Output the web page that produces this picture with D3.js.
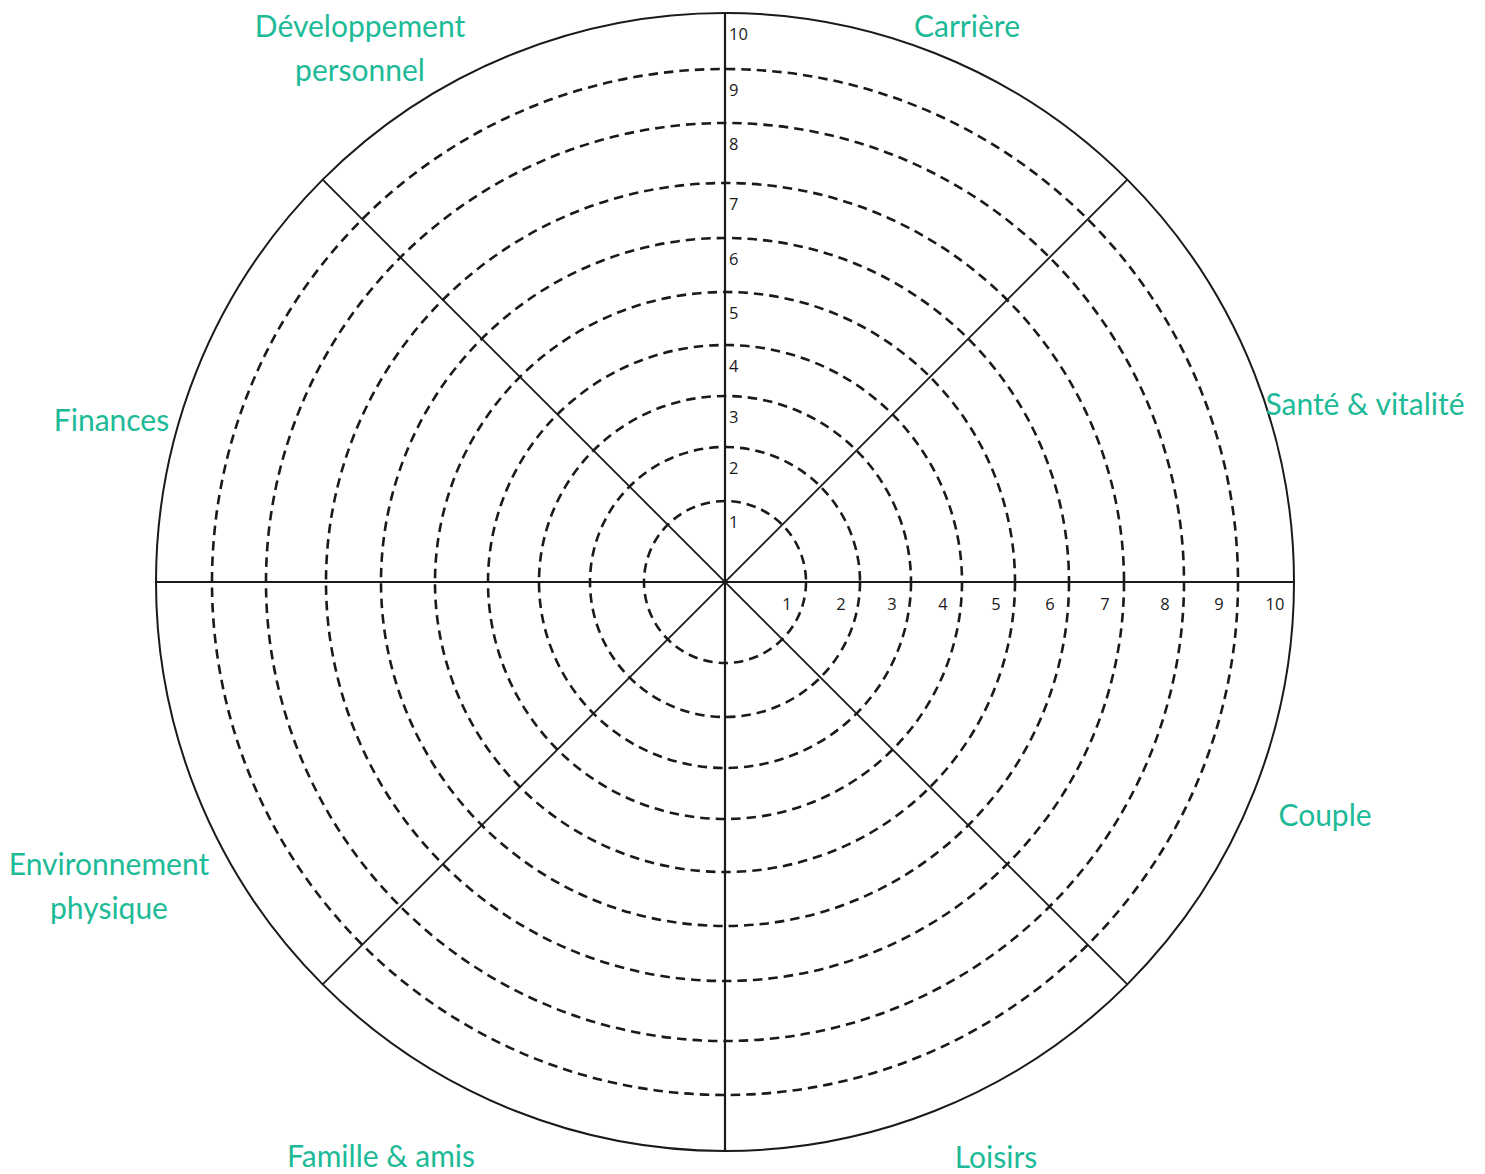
<!DOCTYPE html>
<html>
<head>
<meta charset="utf-8">
<script src="https://cdn.jsdelivr.net/npm/d3@7"></script>
<style>
  html, body { margin: 0; padding: 0; background: #fff; }
  svg { display: block; }
</style>
</head>
<body>
<svg id="chart" width="1485" height="1174"></svg>
<script>
// ---- data ----
const categories = ["Carrière", "Santé & vitalité", "Couple", "Loisirs",
                    "Famille & amis", "Environnement\nphysique", "Finances", "Développement\npersonnel"];
const ringValues = [1, 2, 3, 4, 5, 6, 7, 8, 9];
const tickValues = [1, 2, 3, 4, 5, 6, 7, 8, 9, 10];
const maxValue = 10;
const spokeAngles = [0, 45, 90, 135];

// ---- layout ----
const W = 1485, H = 1174;
const cx = 725, cy = 582;
const r = d3.scaleLinear()
  .domain(d3.range(0, 11))
  .range([0, 81, 135, 186, 237, 290, 344, 399, 459, 513, 569]);

// label anchors (offset from centre: dx, dy of first baseline)
const labelLayout = [
  [242, -545], [640, -167], [600, 244], [271, 586],
  [-344, 585], [-616, 293], [-613.5, -151], [-365, -545]
];
const lineGap = 44;
const teal = "#1dba97";
const ink = "#1a1a1a";

const svg = d3.select("#chart");
svg.append("rect").attr("width", W).attr("height", H).attr("fill", "#fff");
const g = svg.append("g").attr("transform", `translate(${cx},${cy})`);

// dashed rings
g.selectAll("circle.ring").data(ringValues).join("circle")
  .attr("class", "ring")
  .attr("r", d => r(d))
  .attr("fill", "none")
  .attr("stroke", ink)
  .attr("stroke-width", 2.6)
  .attr("stroke-dasharray", "9.5,6");

// outer circle
g.append("circle")
  .attr("r", r(maxValue))
  .attr("fill", "none")
  .attr("stroke", ink)
  .attr("stroke-width", 2);

// spokes (full diameters)
g.selectAll("line.spoke").data(spokeAngles).join("line")
  .attr("class", "spoke")
  .attr("x1", a => r(maxValue) * Math.cos(a * Math.PI / 180))
  .attr("y1", a => -r(maxValue) * Math.sin(a * Math.PI / 180))
  .attr("x2", a => -r(maxValue) * Math.cos(a * Math.PI / 180))
  .attr("y2", a => r(maxValue) * Math.sin(a * Math.PI / 180))
  .attr("stroke", ink)
  .attr("stroke-width", a => (a % 90 === 0) ? 2.2 : 1.8);

// tick labels along vertical (upwards) axis
const tickFont = "'Open Sans', 'Liberation Sans', sans-serif";
g.selectAll("text.vtick").data(tickValues).join("text")
  .attr("class", "vtick")
  .attr("x", 4)
  .attr("y", d => -r(d) + 21)
  .attr("dy", "0.35em")
  .attr("font-family", tickFont)
  .attr("font-size", 16.5)
  .attr("fill", ink)
  .text(d => d);

// tick labels along horizontal (right) axis
g.selectAll("text.htick").data(tickValues).join("text")
  .attr("class", "htick")
  .attr("x", d => r(d) - 19)
  .attr("y", 22)
  .attr("dy", "0.35em")
  .attr("text-anchor", "middle")
  .attr("font-family", tickFont)
  .attr("font-size", 16.5)
  .attr("fill", ink)
  .text(d => d);

// category labels
const labels = g.selectAll("text.cat").data(categories).join("text")
  .attr("class", "cat")
  .attr("x", (d, i) => labelLayout[i][0])
  .attr("y", (d, i) => labelLayout[i][1])
  .attr("text-anchor", "middle")
  .attr("font-family", "Lato, 'Open Sans', sans-serif")
  .attr("font-size", 30)
  .attr("fill", teal);
labels.each(function(d, i) {
  const t = d3.select(this);
  d.split("\n").forEach((line, k) => {
    t.append("tspan")
      .attr("x", labelLayout[i][0])
      .attr("dy", k === 0 ? 0 : lineGap)
      .text(line);
  });
});
</script>
</body>
</html>
